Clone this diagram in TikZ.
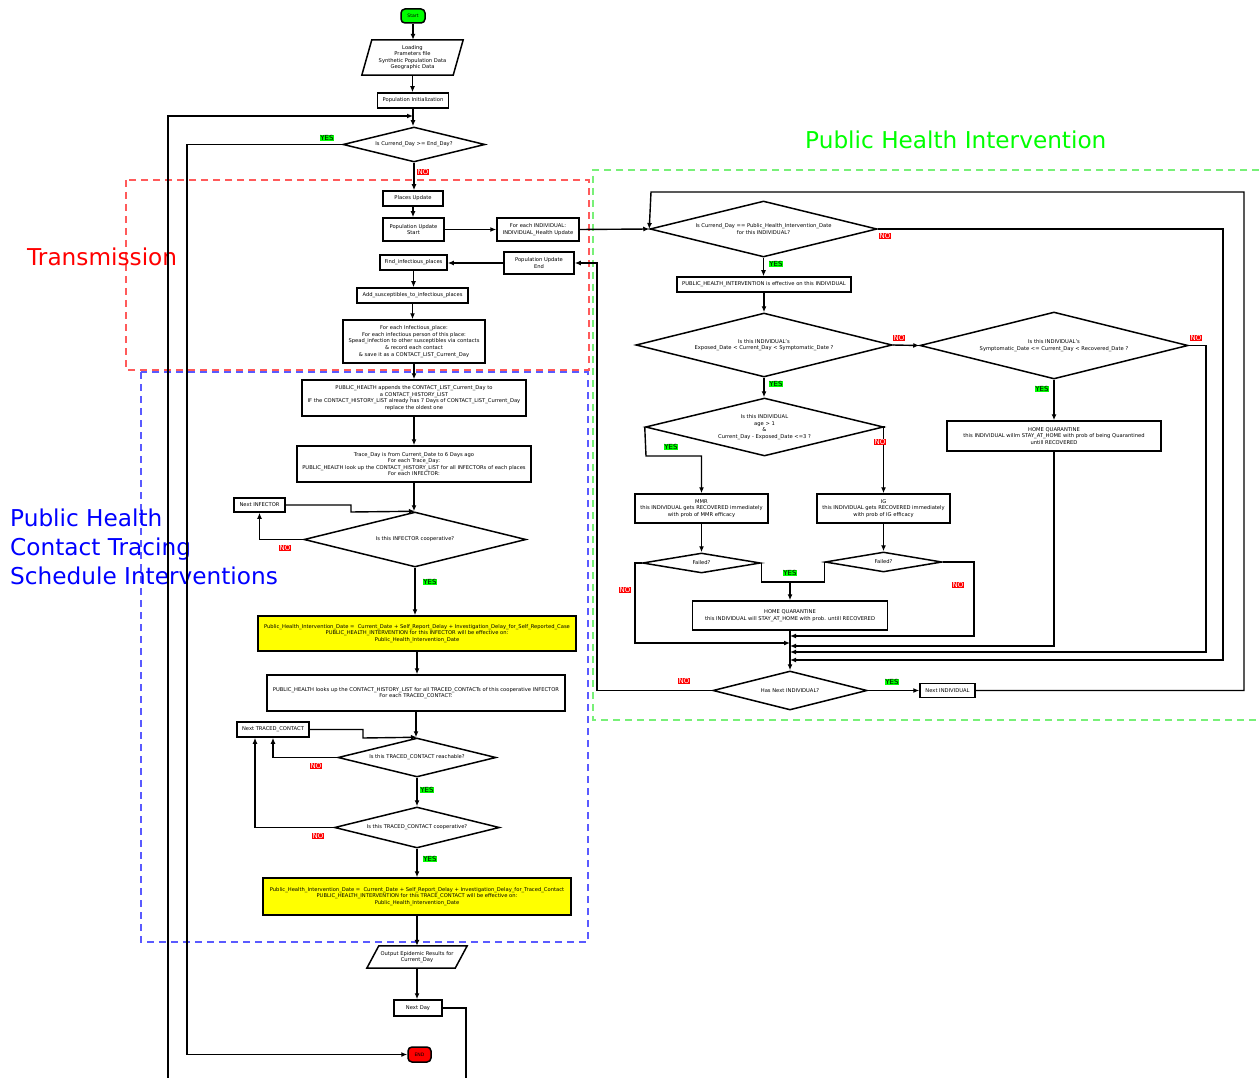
\documentclass[tikz,border=0pt]{standalone}
\usepackage{fontspec}
\setmainfont{DejaVu Sans}
\usetikzlibrary{arrows.meta,shapes.geometric}
\definecolor{okgreen}{RGB}{0,255,0}
\definecolor{nored}{RGB}{255,0,0}
\definecolor{dred}{RGB}{255,90,90}
\definecolor{dblue}{RGB}{90,90,255}
\definecolor{dgreen}{RGB}{120,240,120}
\definecolor{hlyellow}{RGB}{255,255,0}
\definecolor{titleblue}{RGB}{0,0,255}
\tikzset{
  box/.style={draw, line width=1.5pt, fill=white, font=\fontsize{5.2}{6.6}\selectfont, align=center, inner sep=1pt},
  ybox/.style={box, fill=hlyellow},
  dia/.style={diamond, draw, line width=1.5pt, fill=white, font=\fontsize{5.2}{6.6}\selectfont, align=center, inner sep=0pt, aspect=4},
  para/.style={font=\fontsize{5.2}{6.6}\selectfont, align=center, inner sep=0pt},
  term/.style={draw, line width=1.5pt, rounded corners=4pt, font=\fontsize{4.6}{5}\selectfont, inner sep=0pt},
  ln/.style={line width=1.4pt},
  arr/.style={line width=1.4pt, -{Latex[length=6pt,width=5pt]}},
  yes/.style={fill=okgreen, font=\fontsize{7}{7.5}\selectfont, inner sep=0.8pt},
  no/.style={fill=nored, text=white, font=\fontsize{7}{7.5}\selectfont, inner sep=0.8pt},
  region/.style={line width=1.2pt, dash pattern=on 7pt off 5pt},
  bigtxt/.style={font=\fontsize{23.2}{29}\selectfont, inner sep=0pt, align=left}
}
\begin{document}
\begin{tikzpicture}[x=1pt,y=-1pt]
\useasboundingbox (0,0) rectangle (1259,1078);
\fill[white] (0,0) rectangle (1259,1078);

% regions
\draw[region, dred] (126,180) rectangle (589,370);
\draw[region, dblue] (141,372) rectangle (588,942);
\draw[region, dgreen] (1259,170) -- (593,170) -- (593,720) -- (1259,720);

\node[bigtxt, text=nored, anchor=west] (ttrans) at (27,257) {Transmission};
\node[bigtxt, text=okgreen, anchor=west] (tphi) at (805,140) {Public Health Intervention};
\node[bigtxt, text=titleblue, anchor=west] (tpht) at (10,547) {Public Health\\Contact Tracing\\Schedule Interventions};

% ---------- left column ----------
\node[term, fill=okgreen, minimum width=24, minimum height=14] (start) at (413,16) {Start};
\node[para, minimum width=91, minimum height=35] (load) at (412.5,57.5) {Loading\\Prameters file\\Synthetic Population Data\\Geographic Data};
\draw[line width=1.5pt] ([xshift=5pt]load.north west) -- ([xshift=5pt]load.north east) -- ([xshift=-5pt]load.south east) -- ([xshift=-5pt]load.south west) -- cycle;
\node[box, minimum width=71, minimum height=15] (init) at (413,100.5) {Population Initialization};
\node[dia, minimum width=142, minimum height=35] (dend) at (414,144.5) {Is Currend\_Day >= End\_Day?};
\node[box, minimum width=60, minimum height=15] (places) at (413,198.5) {Places Update};
\node[box, minimum width=61, minimum height=23] (popstart) at (413.5,229.5) {Population Update\\Start};
\node[box, minimum width=82, minimum height=23] (foreach) at (538,229.5) {For each INDIVIDUAL:\\INDIVIDUAL\_Health Update};
\node[box, minimum width=67, minimum height=15] (findinf) at (413.5,262.5) {Find\_infectious\_places};
\node[box, minimum width=70, minimum height=22] (popend) at (539,263) {Population Update\\End};
\node[box, minimum width=111, minimum height=15] (addsus) at (412.5,295.5) {Add\_susceptibles\_to\_infectious\_places};
\node[box, minimum width=142, minimum height=43] (spread) at (414,341.5) {For each Infectious\_place:\\For each infectious person of this place:\\Spead\_infection to other susceptibles via contacts\\\& record each contact\\\& save it as a CONTACT\_LIST\_Current\_Day};
\node[box, minimum width=224, minimum height=36] (append) at (414,398) {PUBLIC\_HEALTH appends the CONTACT\_LIST\_Current\_Day to\\a CONTACT\_HISTORY\_LIST\\IF the CONTACT\_HISTORY\_LIST already has 7 Days of CONTACT\_LIST\_Current\_Day\\replace the oldest one};
\node[box, minimum width=234, minimum height=36] (trace) at (414,464) {Trace\_Day is from Current\_Date to 6 Days ago\\For each Trace\_Day:\\PUBLIC\_HEALTH look up the CONTACT\_HISTORY\_LIST for all INFECTORs of each places\\For each INFECTOR:};
\node[box, minimum width=51, minimum height=14] (nextinf) at (259.5,505) {Next INFECTOR};
\node[dia, minimum width=222, minimum height=55] (dinf) at (415,539.5) {Is this INFECTOR cooperative?};
\node[ybox, minimum width=318, minimum height=35] (yel1) at (417,633.5) {Public\_Health\_Intervention\_Date =~ Current\_Date + Self\_Report\_Delay + Investigation\_Delay\_for\_Self\_Reported\_Case\\PUBLIC\_HEALTH\_INTERVENTION for this INFECTOR will be effective on:\\Public\_Health\_Intervention\_Date};
\node[box, minimum width=298, minimum height=36] (lookup) at (416,693) {PUBLIC\_HEALTH looks up the CONTACT\_HISTORY\_LIST for all TRACED\_CONTACTs of this cooperative INFECTOR\\For each TRACED\_CONTACT:};
\node[box, minimum width=72, minimum height=15] (nexttc) at (273,729.5) {Next TRACED\_CONTACT};
\node[dia, minimum width=158, minimum height=39] (dreach) at (417,757.5) {Is this TRACED\_CONTACT reachable?};
\node[dia, minimum width=165, minimum height=41] (dcoop) at (417,827.5) {Is this TRACED\_CONTACT cooperative?};
\node[ybox, minimum width=308, minimum height=37] (yel2) at (417,896.5) {Public\_Health\_Intervention\_Date =~ Current\_Date + Self\_Report\_Delay + Investigation\_Delay\_for\_Traced\_Contact\\PUBLIC\_HEALTH\_INTERVENTION for this TRACE\_CONTACT will be effective on:\\Public\_Health\_Intervention\_Date};
\node[para, minimum width=88, minimum height=22] (output) at (417,957) {Output Epidemic Results for\\Current\_Day};
\draw[line width=1.5pt] ([xshift=6pt]output.north west) -- ([xshift=6pt]output.north east) -- ([xshift=-6pt]output.south east) -- ([xshift=-6pt]output.south west) -- cycle;
\node[box, minimum width=48, minimum height=16] (nextday) at (418,1008) {Next Day};
\node[term, fill=nored, minimum width=23, minimum height=15] (endn) at (419.5,1054.5) {END};

% ---------- right part ----------
\node[dia, minimum width=227, minimum height=56] (d1) at (763.5,229) {Is Currend\_Day == Public\_Health\_Intervention\_Date\\for this INDIVIDUAL?};
\node[box, minimum width=174, minimum height=15] (effective) at (764,284.5) {PUBLIC\_HEALTH\_INTERVENTION is effective on this INDIVIDUAL};
\node[dia, minimum width=256, minimum height=64] (d2) at (764,345) {Is this INDIVIDUAL's\\Exposed\_Date < Current\_Day < Symptomatic\_Date ?};
\node[dia, minimum width=268, minimum height=67] (d3) at (1054,345.5) {Is this INDIVIDUAL's\\Symptomatic\_Date <= Current\_Day < Recovered\_Date ?};
\node[dia, minimum width=238, minimum height=58] (d4) at (764.5,427) {Is this INDIVIDUAL\\age > 1\\\&\\Current\_Day - Exposed\_Date <=3 ?};
\node[box, minimum width=214, minimum height=30] (hq1) at (1054,436) {HOME QUARANTINE\\this INDIVIDUAL willm STAY\_AT\_HOME with prob of being Quarantined\\untill RECOVERED};
\node[box, minimum width=133, minimum height=29] (mmr) at (701.5,508.5) {MMR\\this INDIVIDUAL gets RECOVERED immediately\\with prob of MMR efficacy};
\node[box, minimum width=133, minimum height=29] (ig) at (883.5,508.5) {IG\\this INDIVIDUAL gets RECOVERED immediately\\with prob of IG efficacy};
\node[dia, minimum width=118, minimum height=20, aspect=5] (fmmr) at (701.5,563) {Failed?};
\node[dia, minimum width=117, minimum height=20, aspect=5] (fig) at (883.5,562) {Failed?};
\node[box, minimum width=195, minimum height=29] (hq2) at (790,615.5) {HOME QUARANTINE\\this INDIVIDUAL will STAY\_AT\_HOME with prob. untill RECOVERED};
\node[dia, minimum width=154, minimum height=39] (dnext) at (790,690.5) {Has Next INDIVIDUAL?};
\node[box, minimum width=55, minimum height=14] (nextind) at (947.5,690.5) {Next INDIVIDUAL};

% junction coordinates
\coordinate (jloop) at (413,116);
\coordinate (jleft) at (168,1078);
\coordinate (jnext) at (466,1078);
\coordinate (jy) at (790,582);
\coordinate (j636) at (790,636);
\coordinate (j643) at (790,643);
\coordinate (j645) at (790,646);
\coordinate (j652) at (790,652);
\coordinate (j660) at (790,660);

% ---------- connectors, left ----------
\draw[arr] (start.south) -- (start.south |- load.north);
\draw[arr] (load.south) -- (load.south |- init.north);
\draw[arr] (init.south) -- (init.south |- dend.north);
\draw[arr] (jleft) |- (jloop);
\draw[arr] (dend.west) -- (187,144.5) |- (endn.west);
\draw[arr] (dend.south) -- (dend.south |- places.north);
\draw[arr] (places.south) -- (places.south |- popstart.north);
\draw[arr] (popstart.east) -- (popstart.east -| foreach.west);
\draw[arr] (popend.west) -- (popend.west -| findinf.east);
\draw[arr] (findinf.south) -- (findinf.south |- addsus.north);
\draw[arr] (addsus.south) -- (addsus.south |- spread.north);
\draw[arr] (spread.south) -- (spread.south |- append.north);
\draw[arr] (append.south) -- (append.south |- trace.north);
\draw[arr] (trace.south) -- (trace.south |- dinf.north);
\draw[arr] (nextinf.east) -- (351,505) -- (351,512) -- (dinf.north);
\draw[arr] (dinf.west) -| (nextinf.south);
\draw[arr] (dinf.south) -- (dinf.south |- yel1.north);
\draw[arr] (yel1.south) -- (yel1.south |- lookup.north);
\draw[arr] (lookup.south) -- (lookup.south |- dreach.north);
\draw[arr] (nexttc.east) -- (363,729.5) -- (363,738) -- (dreach.north);
\draw[arr] (dreach.west) -| (nexttc.south);
\draw[arr] (dreach.south) -- (dcoop.north);
\draw[arr] (dcoop.west) -| ([xshift=-18pt]nexttc.south);
\draw[arr] (dcoop.south) -- (yel2.north);
\draw[arr] (yel2.south) -- (yel2.south |- output.north);
\draw[arr] (output.south) -- (output.south |- nextday.north);
\draw[ln] (nextday.east) -| (jnext);

% ---------- connectors, right ----------
\draw[arr] (foreach.east) -- (d1.west);
\draw[arr] (d1.south) -- (d1.south |- effective.north);
\draw[arr] (d1.east) -- (1223,229) |- (j660);
\draw[arr] (effective.south) -- (effective.south |- d2.north);
\draw[arr] (d2.east) -- (d3.west);
\draw[arr] (d2.south) -- (d2.south |- d4.north);
\draw[arr] (d3.south) -- (hq1.north);
\draw[arr] (d3.east) -- (1206,345.5) |- (j652);
\draw[arr] (d4.west) -- (646,456) -| (mmr.north);
\draw[arr] (d4.east) -| (ig.north);
\draw[arr] (mmr.south) -- (fmmr.north);
\draw[arr] (ig.south) -- (fig.north);
\draw[ln] (fmmr.east) |- (jy);
\draw[ln] (fig.west) |- (jy);
\draw[arr] (jy) -- (hq2.north);
\draw[arr] (fmmr.west) -- (635,563) |- (j643);
\draw[arr] (fig.east) -- (974,562) |- (j636);
\draw[arr] (hq1.south) |- (j645);
\draw[arr] (hq2.south) -- (dnext.north);
\draw[arr] (dnext.east) -- (nextind.west);
\draw[arr] (nextind.east) -- (1244,690.5) |- (651,192) -- (d1.west);
\draw[arr] (dnext.west) -- (597,690.5) |- (popend.east);

% ---------- labels ----------
\node[yes] (y1) at (327,138) {YES};
\node[no] (n1) at (423,172) {NO};
\node[no] (n2) at (285,548) {NO};
\node[yes] (y2) at (430,582) {YES};
\node[no] (n3) at (316,766) {NO};
\node[yes] (y3) at (427,790) {YES};
\node[no] (n4) at (318,836) {NO};
\node[yes] (y4) at (430,859) {YES};
\node[no] (n5) at (885,236) {NO};
\node[yes] (y5) at (776,264) {YES};
\node[no] (n6) at (899,338) {NO};
\node[yes] (y6) at (776,384) {YES};
\node[no] (n7) at (1196,338) {NO};
\node[yes] (y7) at (1042,389) {YES};
\node[yes] (y8) at (671,447) {YES};
\node[no] (n8) at (880,442) {NO};
\node[yes] (y9) at (790,573) {YES};
\node[no] (n9) at (625,590) {NO};
\node[no] (n10) at (958,585) {NO};
\node[no] (n11) at (684,681) {NO};
\node[yes] (y10) at (892,682) {YES};
\end{tikzpicture}
\end{document}
